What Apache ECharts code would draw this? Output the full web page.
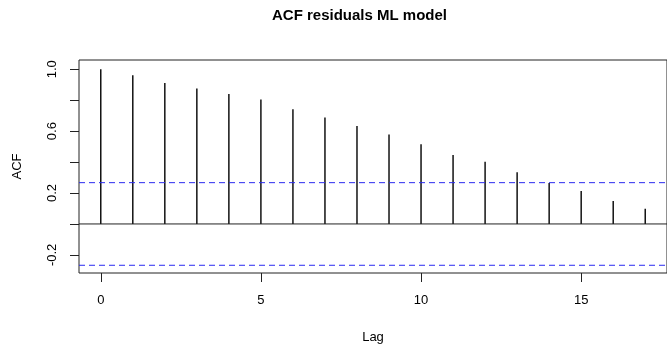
<!DOCTYPE html>
<html>
<head>
<meta charset="utf-8">
<script src="https://cdn.jsdelivr.net/npm/echarts@6/dist/echarts.min.js"></script>
<style>
  html, body { margin: 0; padding: 0; background: #fff; }
  #chart { width: 667px; height: 350px; }
</style>
</head>
<body>
<div id="chart"></div>
<script>
// lags 0..17 and the autocorrelation
const lags = [0, 1, 2, 3, 4, 5, 6, 7, 8, 9, 10, 11, 12, 13, 14, 15, 16, 17];
const acfValues = [1.0, 0.961, 0.912, 0.875, 0.841, 0.804, 0.741, 0.688, 0.634,
                   0.578, 0.515, 0.446, 0.403, 0.334, 0.265, 0.213, 0.149, 0.099];
const ciBound = 0.267;
const xTickValues = [0, 5, 10, 15];
const yTickValues = [-0.2, 0, 0.2, 0.4, 0.6, 0.8, 1.0];
const yLabelValues = [-0.2, 0.2, 0.6, 1.0];

const font = 'Liberation Sans, Arial, sans-serif';
const ink = '#222';
const ciBlue = '#2a2af0';
const xRange = { min: -0.68, max: 17.68 };
const yRange = { min: -0.317, max: 1.06 };
const box = { left: 79, top: 60, width: 593, height: 213 };

const chart = echarts.init(document.getElementById('chart'), null, { renderer: 'canvas' });

// grid 0 holds data + labels; grids 1 and 2 sit on top and only draw ticks
// (their partner axis does not cross zero, so the tick axis stays on the edge)
const hidden = { type: 'value', min: 1, max: 2, show: false };

const xAxes = [{
    gridIndex: 0, type: 'value', ...xRange,
    name: 'Lag', nameLocation: 'middle', nameGap: 58,
    nameTextStyle: { fontFamily: font, fontSize: 13, color: '#000' },
    axisLine: { show: false, onZero: false },
    axisTick: { show: false },
    splitLine: { show: false },
    axisLabel: { customValues: xTickValues, margin: 21, fontFamily: font, fontSize: 13, color: '#000' }
}, {
    gridIndex: 1, type: 'value', ...xRange, position: 'bottom',
    axisLine: { show: false },
    axisTick: { show: true, length: 9, customValues: xTickValues, lineStyle: { color: ink } },
    axisLabel: { show: false },
    splitLine: { show: false }
}, { gridIndex: 2, ...hidden }];

const yAxes = [{
    gridIndex: 0, type: 'value', ...yRange,
    name: 'ACF', nameLocation: 'middle', nameRotate: 90, nameGap: 55,
    nameTextStyle: { fontFamily: font, fontSize: 13, color: '#000' },
    axisLine: { show: false, onZero: false },
    axisTick: { show: false },
    splitLine: { show: false },
    axisLabel: {
        customValues: yLabelValues, rotate: 90, margin: 20,
        fontFamily: font, fontSize: 13, color: '#000',
        formatter: v => v.toFixed(1)
    }
}, { gridIndex: 1, ...hidden }, {
    gridIndex: 2, type: 'value', ...yRange, position: 'left',
    axisLine: { show: false },
    axisTick: { show: true, length: 9, customValues: yTickValues, lineStyle: { color: ink } },
    axisLabel: { show: false },
    splitLine: { show: false }
}];

// horizontal reference line across the full x range
function hLine(value, color, type) {
    return {
        type: 'line',
        data: [[xRange.min, value], [xRange.max, value]],
        symbol: 'none',
        silent: true,
        z: 6,
        lineStyle: { color: color, type: type, width: 1 }
    };
}

const option = {
    animation: false,
    backgroundColor: '#fff',
    title: {
        text: 'ACF residuals ML model',
        left: 272,
        top: 8,
        padding: 0,
        textStyle: { fontFamily: font, fontSize: 15, fontWeight: 'bold', color: '#000' }
    },
    grid: [
        { ...box, show: true, borderColor: ink, borderWidth: 1, backgroundColor: 'transparent' },
        { ...box },
        { ...box }
    ],
    xAxis: xAxes,
    yAxis: yAxes,
    series: [
        {
            type: 'bar',
            barWidth: 1.4,
            z: 5,
            data: lags.map((l, i) => [l, acfValues[i]]),
            itemStyle: { color: '#000' }
        },
        hLine(0, ink, 'solid'),
        hLine(ciBound, ciBlue, [6, 4]),
        hLine(-ciBound, ciBlue, [6, 4])
    ]
};

chart.setOption(option);
</script>
</body>
</html>
